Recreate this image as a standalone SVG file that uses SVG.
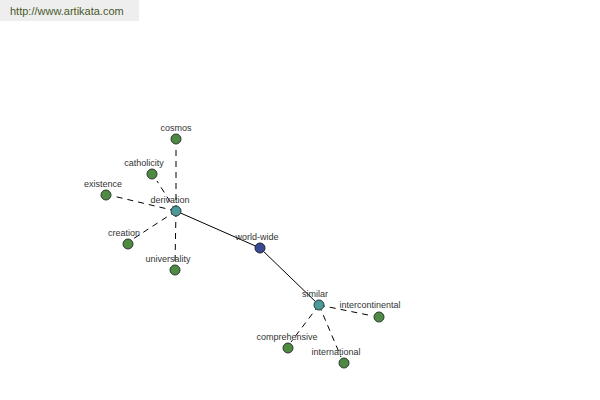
<svg xmlns="http://www.w3.org/2000/svg" width="600" height="400" viewBox="0 0 600 400">
<style>
text{font-family:"Liberation Sans",Arial,sans-serif;font-size:9px;fill:#333;text-anchor:middle}
.d{stroke:#000;stroke-width:1;stroke-dasharray:6,5;fill:none}
.s{stroke:#000;stroke-width:1;fill:none}
.g{fill:#4f8a45;stroke:#2a3a2a;stroke-width:1}
.t{fill:#4a9a9a;stroke:#2a3a3a;stroke-width:1}
.b{fill:#3a4a90;stroke:#202040;stroke-width:1}
</style>
<rect width="600" height="400" fill="#fff"/>
<g id="header"><rect x="0" y="0" width="139" height="21" fill="#eeeeee"/><text x="10" y="15" style="text-anchor:start;font-size:11px;fill:#4a5a2a">http://www.artikata.com</text></g>
<g id="connectors">
<line class="s" x1="176" y1="211" x2="260" y2="248"/>
<line class="s" x1="260" y1="248" x2="319" y2="305"/>
<line class="d" x1="176" y1="211" x2="176" y2="145"/>
<line class="d" x1="176" y1="211" x2="157" y2="181"/>
<line class="d" x1="176" y1="211" x2="113" y2="196"/>
<line class="d" x1="176" y1="211" x2="133" y2="239"/>
<line class="d" x1="176" y1="211" x2="175" y2="264"/>
<line class="d" x1="319" y1="305" x2="373" y2="316"/>
<line class="d" x1="319" y1="305" x2="291" y2="342"/>
<line class="d" x1="319" y1="305" x2="341" y2="357"/>
</g>
<g id="n-derivation"><circle class="t" cx="176" cy="211" r="5"/><text x="170" y="203">derivation</text></g>
<g id="n-cosmos"><circle class="g" cx="176" cy="139" r="5"/><text x="176" y="131">cosmos</text></g>
<g id="n-catholicity"><circle class="g" cx="152" cy="174" r="5"/><text x="144" y="166">catholicity</text></g>
<g id="n-existence"><circle class="g" cx="106" cy="195" r="5"/><text x="103" y="187">existence</text></g>
<g id="n-creation"><circle class="g" cx="128" cy="244" r="5"/><text x="124" y="236">creation</text></g>
<g id="n-universality"><circle class="g" cx="175" cy="270" r="5"/><text x="168" y="262">universality</text></g>
<g id="n-world-wide"><circle class="b" cx="260" cy="248" r="5"/><text x="257" y="240">world-wide</text></g>
<g id="n-similar"><circle class="t" cx="319" cy="305" r="5"/><text x="315" y="297">similar</text></g>
<g id="n-intercontinental"><circle class="g" cx="379" cy="317" r="5"/><text x="370" y="308">intercontinental</text></g>
<g id="n-comprehensive"><circle class="g" cx="288" cy="348" r="5"/><text x="287" y="340">comprehensive</text></g>
<g id="n-international"><circle class="g" cx="344" cy="363" r="5"/><text x="336" y="355">international</text></g>
</svg>
